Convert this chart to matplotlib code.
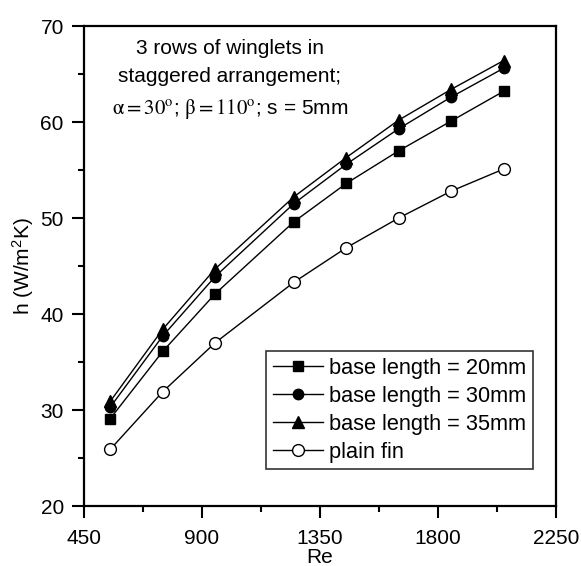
import matplotlib
matplotlib.use('Agg')
from matplotlib import pyplot as plt
from matplotlib.ticker import MultipleLocator

# Data.
Re = [550, 750, 950, 1250, 1450, 1650, 1850, 2050]
h_20mm = [29.1, 36.1, 42.1, 49.6, 53.6, 57.0, 60.1, 63.2]
h_30mm = [30.3, 37.7, 43.9, 51.5, 55.6, 59.3, 62.6, 65.6]
h_35mm = [30.9, 38.4, 44.7, 52.2, 56.3, 60.2, 63.4, 66.4]
h_plain = [25.9, 31.9, 37.0, 43.3, 46.9, 50.0, 52.8, 55.1]

plt.rcParams['font.family'] = ['Liberation Sans', 'DejaVu Sans']
plt.rcParams['mathtext.fontset'] = 'stix'

fig = plt.figure(figsize=(5.81, 5.66), dpi=100)
ax = fig.add_axes([0.1446, 0.106, 0.8124, 0.848])

kw = dict(color='black', lw=1.0, markeredgecolor='black')
ax.plot(Re, h_20mm, marker='s', ms=7, label='base length = 20mm', **kw)
ax.plot(Re, h_30mm, marker='o', ms=7.5, label='base length = 30mm', **kw)
ax.plot(Re, h_35mm, marker='^', ms=8, label='base length = 35mm', **kw)
ax.plot(Re, h_plain, marker='o', ms=8.5, markerfacecolor='white',
        label='plain fin', **kw)

ax.set_xlim(450, 2250)
ax.set_ylim(20, 70)
ax.xaxis.set_major_locator(MultipleLocator(450))
ax.xaxis.set_minor_locator(MultipleLocator(225))
ax.yaxis.set_major_locator(MultipleLocator(10))
ax.yaxis.set_minor_locator(MultipleLocator(5))
ax.tick_params(which='both', direction='out', width=1.5, labelsize=15,
               top=False, right=False)
ax.tick_params(which='major', length=8.5)
ax.tick_params(which='minor', length=4.5)
ax.tick_params(axis='x', which='major', pad=8)
ax.tick_params(axis='y', which='major', pad=6)
for sp in ax.spines.values():
    sp.set_linewidth(1.6)

ax.set_xlabel('Re', fontsize=15, labelpad=0)
ax.set_ylabel('h (W/m$^{\\mathregular{2}}$K)', fontsize=15, labelpad=3)

# annotation, one line at a time (baselines)
ax.text(0.309, 0.9417, '3 rows of winglets in', transform=ax.transAxes,
        ha='center', va='baseline', fontsize=15)
ax.text(0.309, 0.8833, 'staggered arrangement;', transform=ax.transAxes,
        ha='center', va='baseline', fontsize=15)
ax.text(0.309, 0.8167,
        r'$\mathrm{\alpha} = 30^{\rm o}$; $\mathrm{\beta} = 110^{\rm o}$; s = 5mm',
        transform=ax.transAxes, ha='center', va='baseline', fontsize=15)

leg = ax.legend(loc='lower right', bbox_to_anchor=(0.951, 0.077),
                fontsize=15.7, frameon=True, fancybox=False, handlelength=2.3,
                handletextpad=0.28, borderpad=0.3, labelspacing=0.32,
                borderaxespad=0)
leg.get_frame().set_edgecolor('black')
leg.get_frame().set_linewidth(1.2)

fig.savefig('out.png', dpi=100)
